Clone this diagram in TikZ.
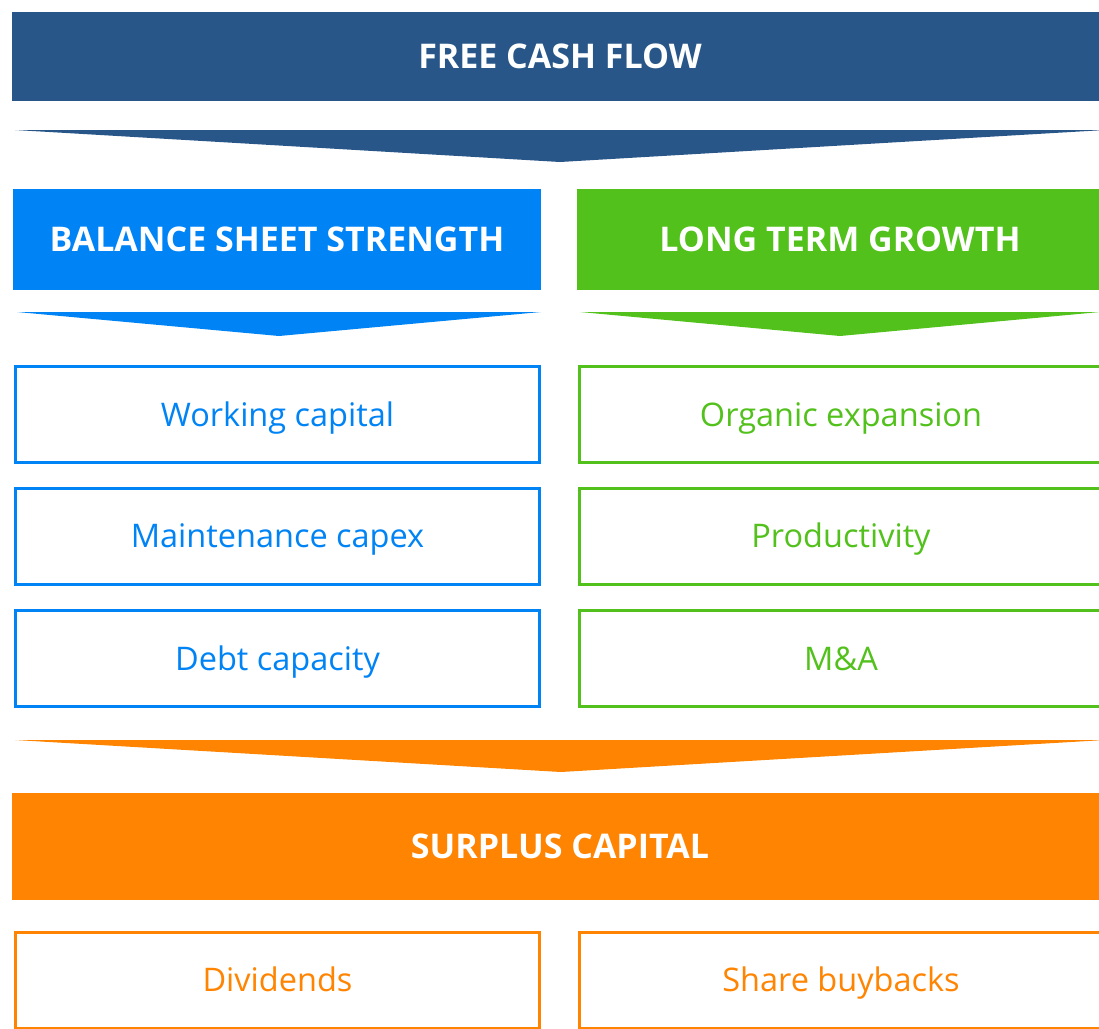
\documentclass[tikz,border=0pt]{standalone}
\usepackage{fontspec}
\setmainfont{Open Sans}
\usetikzlibrary{positioning}
\definecolor{navy}{HTML}{285689}
\definecolor{bsblue}{HTML}{0084F5}
\definecolor{ltgreen}{HTML}{52C11C}
\definecolor{surplus}{HTML}{FF8402}
\tikzset{
  bar/.style={fill=#1, text=white, font=\fontsize{34}{40}\selectfont\bfseries,
    inner sep=0pt, text height=24pt, text depth=0pt, anchor=center},
  itembox/.style={draw=#1, line width=3pt, text=#1, fill=white,
    font=\fontsize{32.5}{38}\selectfont, inner sep=0pt,
    text height=23pt, text depth=0pt,
    minimum width=524pt, minimum height=96pt},
  chevron/.style={fill=#1, draw=none}
}
\begin{document}
\begin{tikzpicture}[x=1pt,y=-1pt]
  \useasboundingbox (0,0) rectangle (1099,1028);
  % Bars
  \node[bar=navy, minimum width=1096pt, minimum height=89pt] (fcf) at (560,56.5) {FREE CASH FLOW};
  \node[bar=bsblue, minimum width=528pt, minimum height=101pt] (bss) at (277,239.5) {BALANCE SHEET STRENGTH};
  \node[bar=ltgreen, minimum width=526pt, minimum height=101pt] (ltg) at (840,239.5) {LONG TERM GROWTH};
  \node[bar=surplus, minimum width=1096pt, minimum height=107pt] (sc) at (560,846.5) {SURPLUS CAPITAL};

  % Chevrons
  \coordinate (c1l) at (15,130);
  \coordinate (c1r) at (1105,130);
  \coordinate (c1t) at (560,162);
  \coordinate (c2l) at (17,312);
  \coordinate (c2r) at (541,312);
  \coordinate (c2t) at (279,336);
  \coordinate (c3l) at (580,312);
  \coordinate (c3r) at (1100,312);
  \coordinate (c3t) at (840,336);
  \coordinate (c4l) at (15,740);
  \coordinate (c4r) at (1105,740);
  \coordinate (c4t) at (561,772);
  \fill[chevron=navy] (c1l) -- (c1r) -- (c1t) -- cycle;
  \fill[chevron=bsblue] (c2l) -- (c2r) -- (c2t) -- cycle;
  \fill[chevron=ltgreen] (c3l) -- (c3r) -- (c3t) -- cycle;
  \fill[chevron=surplus] (c4l) -- (c4r) -- (c4t) -- cycle;

  % Boxes
  \node[itembox=bsblue] (wc) at (277.5,414.5) {Working capital};
  \node[itembox=bsblue] (mc) at (277.5,536) {Maintenance capex};
  \node[itembox=bsblue] (dc) at (277.5,658.5) {Debt capacity};
  \node[itembox=ltgreen] (oe) at (841,414.5) {Organic expansion};
  \node[itembox=ltgreen] (pr) at (841,536) {Productivity};
  \node[itembox=ltgreen] (ma) at (841,658.5) {M\&A};
  \node[itembox=surplus] (dv) at (277.5,980) {Dividends};
  \node[itembox=surplus] (sb) at (841,980) {Share buybacks};
\end{tikzpicture}
\end{document}
